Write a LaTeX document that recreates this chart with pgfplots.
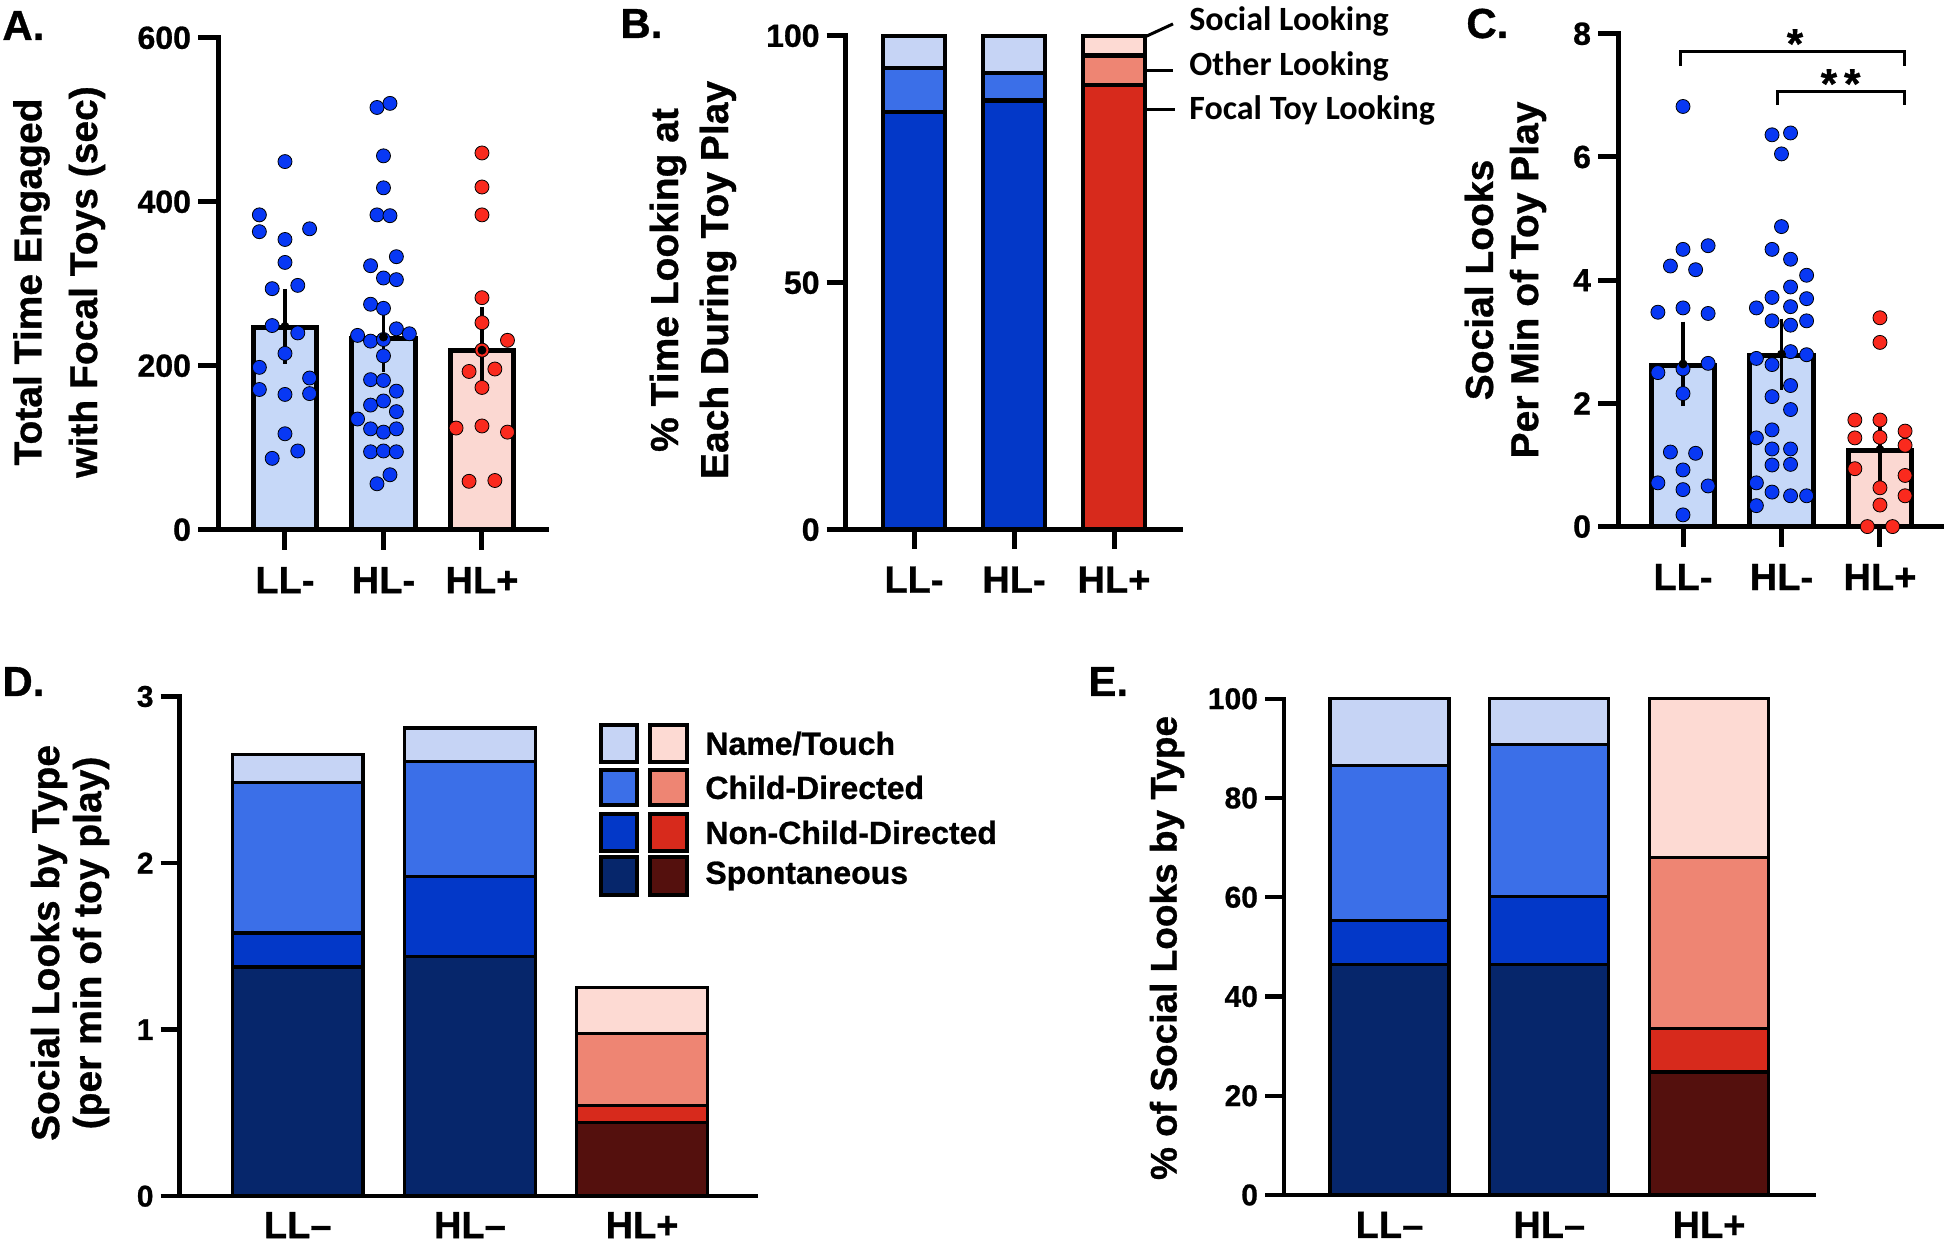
\documentclass[border=0pt]{standalone}
\usepackage{pgfplots}
\pgfplotsset{compat=1.18}
\usepackage{fontspec}
\setmainfont{Liberation Sans}[BoldFeatures={FakeBold=0.8}]
\newfontfamily\calib{Carlito}

\definecolor{ltblue}{RGB}{198,216,248}
\definecolor{ltpink}{RGB}{251,216,210}
\definecolor{dotblue}{RGB}{8,56,244}
\definecolor{dotred}{RGB}{250,42,30}
\definecolor{bNT}{RGB}{198,212,245}
\definecolor{bCD}{RGB}{59,111,232}
\definecolor{bNCD}{RGB}{3,56,200}
\definecolor{bSP}{RGB}{6,38,107}
\definecolor{rNT}{RGB}{253,218,211}
\definecolor{rCD}{RGB}{238,133,115}
\definecolor{rNCD}{RGB}{215,42,28}
\definecolor{rSP}{RGB}{84,16,13}

\pgfplotsset{
  panel/.style={
    scale only axis, clip=false,
    axis x line*=bottom, axis y line*=left,
    axis line style={line width=2.5pt, -, line cap=rect},
    tick style={line width=2.5pt, black},
    tick align=outside,
    major tick length=10pt,
    xtick={0,1,2},
    ymin=0,
    /pgf/number format/assume math mode=true,
    yticklabel style={font=\fontsize{16}{16}\selectfont\bfseries, anchor=east},
    xticklabel style={font=\fontsize{19}{19}\selectfont\bfseries, anchor=base},
  },
  dots/.style={only marks, mark=*, mark size=3.5pt, mark options={draw=none, fill=#1}},
  errb/.style={only marks, mark=none, black, error bars/.cd, y dir=both, y explicit,
    error mark=-,
    error bar style={line width=1.6pt, black},
    error mark options={rotate=0, line width=1.6pt, black, mark size=8.5pt}},
}

\begin{document}
\begin{tikzpicture}
\useasboundingbox (0,0) rectangle (972pt,623.5pt);

% ---------------- Panel A ----------------
\begin{axis}[panel, at={(109pt,358.65pt)}, anchor=south west,
  width=164pt, height=245.95pt,
  xmin=-0.68, xmax=2.65, ymax=600, ytick={0,200,400,600},
  xticklabel style={yshift=-21.75pt},
  xticklabels={LL-,HL-,HL+}]
\addplot[ybar, bar width=0.64, fill=ltblue, draw=black, line width=2.5pt] coordinates {(0,247) (1,233)};
\addplot[ybar, bar width=0.64, fill=ltpink, draw=black, line width=2.5pt] coordinates {(2,218)};
\addplot[dots=dotblue] table {
0 449
-0.26 384
-0.26 363.5
0.25 367
0 354
0 326
-0.13 294
0.13 298
-0.13 249
0.13 240
0 215
-0.26 198
0.25 185
-0.26 171
0 165
0.25 166
0 117
0.13 96
-0.13 87
};
\addplot[dots=dotblue] table {
0.934 515
1.066 520
1 456
1 417
0.934 384
1.066 383
1.131 333
0.869 322
1 307
1.131 305
0.869 275
1 270
1.131 245
1.263 239
0.737 237
0.869 230
1 232
1 212
0.869 183
1 182
1.131 169
0.869 152
1 157
1.131 144
0.737 135
0.869 123
1 119
1.131 123
0.869 95
1 96
1.131 95
1.066 67
0.934 56
};
\addplot[dots=dotred] table {
2 459.5
2 418
2 384
2 283
2 252.5
2.259 231
2 219
1.869 193
2.131 196
2 173.5
1.737 124
2 126.5
2.259 119
1.869 59
2.131 60
};
\addplot[errb] coordinates {(0,248) +- (0,25) (1,235) +- (0,22) (2,219) +- (0,32)};
\end{axis}

% ---------------- Panel B ----------------
\begin{axis}[panel, ybar stacked, bar width=0.62,
  at={(422.8pt,358.65pt)}, anchor=south west,
  width=167.2pt, height=246.95pt,
  xmin=-0.684, xmax=2.66, ymax=100, ytick={0,50,100}, major tick length=9.5pt,
  xticklabel style={yshift=-22pt},
  xticklabels={LL-,HL-,HL+}]
\addplot[fill=bNCD, draw=black, line width=2.2pt] coordinates {(0,84.6) (1,86.9) (2,0)};
\addplot[fill=rNCD, draw=black, line width=2.2pt] coordinates {(0,0) (1,0) (2,90.0)};
\addplot[fill=bCD, draw=black, line width=2.2pt] coordinates {(0,8.9) (1,5.6) (2,0)};
\addplot[fill=rCD, draw=black, line width=2.2pt] coordinates {(0,0) (1,0) (2,6.0)};
\addplot[fill=bNT, draw=black, line width=2.2pt] coordinates {(0,6.5) (1,7.5) (2,0)};
\addplot[fill=rNT, draw=black, line width=2.2pt] coordinates {(0,0) (1,0) (2,4.0)};
\draw[line width=1.5pt] (axis cs:2.29,99.6) -- (axis cs:2.59,102.4);
\draw[line width=1.5pt] (axis cs:2.20,93.0) -- (axis cs:2.59,93.0);
\draw[line width=1.5pt] (axis cs:2.20,85.0) -- (axis cs:2.61,85.0);
\end{axis}

% ---------------- Panel C ----------------
\begin{axis}[panel, at={(809pt,360.2pt)}, anchor=south west,
  width=162pt, height=246.4pt,
  xmin=-0.66, xmax=2.63, ymax=8, ytick={0,2,4,6,8},
  xticklabel style={yshift=-21.75pt},
  xticklabels={LL-,HL-,HL+}]
\addplot[ybar, bar width=0.64, fill=ltblue, draw=black, line width=2.5pt] coordinates {(0,2.61) (1,2.77)};
\addplot[ybar, bar width=0.64, fill=ltpink, draw=black, line width=2.5pt] coordinates {(2,1.24)};
\addplot[dots=dotblue] table {
0 6.82
0 4.50
0.255 4.56
-0.128 4.23
0.128 4.17
-0.255 3.48
0 3.55
0.255 3.46
-0.255 2.50
0 2.56
0.255 2.65
0 2.16
-0.128 1.21
0.128 1.19
0 0.92
-0.255 0.71
0 0.60
0.255 0.66
0 0.19
};
\addplot[dots=dotblue] table {
0.904 6.36
1.092 6.39
1 6.05
1 4.87
0.904 4.50
1.092 4.34
1.255 4.08
1.092 3.89
0.904 3.72
1.255 3.70
0.745 3.55
1.092 3.57
0.904 3.34
1.092 3.27
1.255 3.34
1.092 2.84
1.255 2.79
0.745 2.73
0.904 2.63
1.092 2.29
0.904 2.11
1.092 1.90
0.904 1.57
0.745 1.44
0.904 1.26
1.092 1.26
0.904 1.00
1.092 1.01
0.745 0.71
0.904 0.56
1.092 0.50
1.255 0.50
0.745 0.34
};
\addplot[dots=dotred] table {
2 3.39
2 2.99
1.745 1.73
2 1.73
1.745 1.44
2.255 1.55
2 1.45
2.255 1.32
1.745 0.94
2.255 0.83
2 0.63
2.255 0.50
2 0.35
1.872 0
2.128 0
};
\addplot[errb] coordinates {(0,2.64) +- (0,0.41) (1,2.80) +- (0,0.30) (2,1.25) +- (0,0.25)};
\draw[line width=1.5pt] (axis cs:-0.03,7.48) -- (axis cs:-0.03,7.71) -- (axis cs:2.25,7.71) -- (axis cs:2.25,7.48);
\draw[line width=1.5pt] (axis cs:0.957,6.84) -- (axis cs:0.957,7.07) -- (axis cs:2.25,7.07) -- (axis cs:2.25,6.84);
\node[font=\fontsize{21}{21}\selectfont\bfseries] at (axis cs:1.137,7.84) {*};
\node[font=\fontsize{21}{21}\selectfont\bfseries] at (axis cs:1.60,7.19) {*\,*};
\end{axis}

% ---------------- Panel D ----------------
\begin{axis}[panel, ybar stacked, bar width=0.76,
  at={(89.8pt,25.4pt)}, anchor=south west,
  width=288.05pt, height=249.85pt,
  xmin=-0.686, xmax=2.66, ymax=3, ytick={0,1,2,3}, major tick length=9.5pt,
  axis line style={line width=2.2pt}, tick style={line width=2.2pt},
  xtick style={draw=none},
  yticklabel style={font=\fontsize{15}{15}\selectfont\bfseries},
  xticklabel style={yshift=-11.5pt, inner ysep=0pt},
  xticklabels={LL–,HL–,HL+}]
\addplot[fill=bSP, draw=black, line width=1.7pt] coordinates {(0,1.375) (1,1.44) (2,0)};
\addplot[fill=rSP, draw=black, line width=1.7pt] coordinates {(0,0) (1,0) (2,0.443)};
\addplot[fill=bNCD, draw=black, line width=1.7pt] coordinates {(0,0.205) (1,0.48) (2,0)};
\addplot[fill=rNCD, draw=black, line width=1.7pt] coordinates {(0,0) (1,0) (2,0.103)};
\addplot[fill=bCD, draw=black, line width=1.7pt] coordinates {(0,0.905) (1,0.69) (2,0)};
\addplot[fill=rCD, draw=black, line width=1.7pt] coordinates {(0,0) (1,0) (2,0.429)};
\addplot[fill=bNT, draw=black, line width=1.7pt] coordinates {(0,0.165) (1,0.20) (2,0)};
\addplot[fill=rNT, draw=black, line width=1.7pt] coordinates {(0,0) (1,0) (2,0.279)};
\end{axis}

% ---------------- Panel E ----------------
\begin{axis}[panel, ybar stacked, bar width=0.745,
  at={(642pt,26pt)}, anchor=south west,
  width=265pt, height=248.1pt,
  xmin=-0.66, xmax=2.657, ymax=100, ytick={0,20,40,60,80,100}, major tick length=9.5pt,
  axis line style={line width=2.2pt}, tick style={line width=2.2pt},
  xtick style={draw=none},
  yticklabel style={font=\fontsize{15}{15}\selectfont\bfseries},
  xticklabel style={yshift=-12pt, inner ysep=0pt},
  xticklabels={LL–,HL–,HL+}]
\addplot[fill=bSP, draw=black, line width=1.7pt] coordinates {(0,46.5) (1,46.5) (2,0)};
\addplot[fill=rSP, draw=black, line width=1.7pt] coordinates {(0,0) (1,0) (2,24.8)};
\addplot[fill=bNCD, draw=black, line width=1.7pt] coordinates {(0,8.8) (1,13.7) (2,0)};
\addplot[fill=rNCD, draw=black, line width=1.7pt] coordinates {(0,0) (1,0) (2,8.8)};
\addplot[fill=bCD, draw=black, line width=1.7pt] coordinates {(0,31.3) (1,30.6) (2,0)};
\addplot[fill=rCD, draw=black, line width=1.7pt] coordinates {(0,0) (1,0) (2,34.4)};
\addplot[fill=bNT, draw=black, line width=1.7pt] coordinates {(0,13.4) (1,9.2) (2,0)};
\addplot[fill=rNT, draw=black, line width=1.7pt] coordinates {(0,0) (1,0) (2,32.0)};
\end{axis}

% ---------------- labels ----------------
\begin{scope}[every node/.style={font=\fontsize{19.5}{19.5}\selectfont\bfseries, rotate=90, inner sep=0pt}]
\node at (15.75pt,482.5pt) {Total Time Engaged};
\node at (43.5pt,482.5pt) {with Focal Toys (sec)};
\node at (334pt,483.5pt) {\% Time Looking at};
\node at (359pt,483.5pt) {Each During Toy Play};
\node at (739.5pt,483.5pt) {Social Looks};
\node at (764pt,483.5pt) {Per Min of Toy Play};
\node at (24.5pt,152pt) {Social Looks by Type};
\node at (45.5pt,152pt) {(per min of toy play)};
\node[font=\fontsize{18.5}{18.5}\selectfont\bfseries] at (583.5pt,149.5pt) {\% of Social Looks by Type};
\end{scope}

\begin{scope}[every node/.style={font=\fontsize{21}{21}\selectfont\bfseries, anchor=base west, inner sep=0pt}]
\node at (1pt,603.5pt) {A.};
\node at (310pt,604.5pt) {B.};
\node at (733pt,604.5pt) {C.};
\node at (1pt,275.5pt) {D.};
\node at (544pt,275.5pt) {E.};
\end{scope}

\begin{scope}[every node/.style={font=\calib\fontsize{17}{17}\selectfont\bfseries, anchor=west, inner sep=0pt}]
\node at (594.5pt,613pt) {Social Looking};
\node at (594.5pt,590.5pt) {Other Looking};
\node at (594.5pt,568.5pt) {Focal Toy Looking};
\end{scope}

% legend panel D
\begin{scope}[line width=1.8pt]
\draw[fill=bNT] (300.5pt,242.5pt) rectangle (318.5pt,261pt);
\draw[fill=rNT] (325pt,242.5pt) rectangle (343.5pt,261pt);
\draw[fill=bCD] (300.5pt,221pt) rectangle (318.5pt,238.5pt);
\draw[fill=rCD] (325pt,221pt) rectangle (343.5pt,238.5pt);
\draw[fill=bNCD] (300.5pt,198pt) rectangle (318.5pt,216.5pt);
\draw[fill=rNCD] (325pt,198pt) rectangle (343.5pt,216.5pt);
\draw[fill=bSP] (300.5pt,176pt) rectangle (318.5pt,195pt);
\draw[fill=rSP] (325pt,176pt) rectangle (343.5pt,195pt);
\end{scope}
\begin{scope}[every node/.style={font=\fontsize{16}{16}\selectfont\bfseries, anchor=west, inner sep=0pt}]
\node at (352.5pt,251.75pt) {Name/Touch};
\node at (352.5pt,229.75pt) {Child-Directed};
\node at (352.5pt,207.25pt) {Non-Child-Directed};
\node at (352.5pt,185.5pt) {Spontaneous};
\end{scope}
\end{tikzpicture}
\end{document}
